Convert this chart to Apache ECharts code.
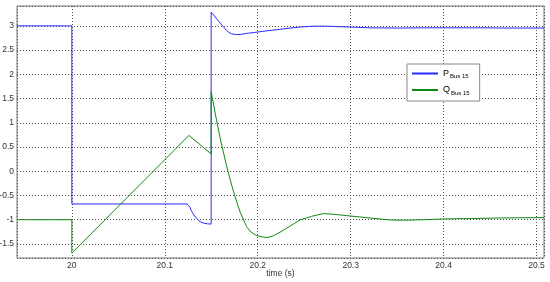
<!DOCTYPE html>
<html>
<head>
<meta charset="utf-8">
<script src="https://cdn.jsdelivr.net/npm/echarts@6/dist/echarts.min.js"></script>
<style>
  html, body { margin: 0; padding: 0; background: #fff; }
  #main { width: 550px; height: 282px; }
</style>
</head>
<body>
<div id="main"></div>
<script>
// P Bus 15 (blue) - time / value
var pTime = [19.941, 20.0, 20.0, 20.124, 20.127, 20.129, 20.132, 20.1344, 20.138, 20.1415, 20.146, 20.1499,
             20.1499, 20.156, 20.163, 20.1684, 20.172, 20.177, 20.182, 20.188, 20.195, 20.2025, 20.213, 20.224,
             20.235, 20.2455, 20.256, 20.267, 20.28, 20.30, 20.32, 20.35, 20.38, 20.41, 20.44, 20.47, 20.508];
var pValue = [3.0, 3.0, -0.675, -0.675, -0.74, -0.83, -0.92, -0.98, -1.04, -1.07, -1.085, -1.09,
              3.285, 3.14, 2.98, 2.87, 2.835, 2.82, 2.825, 2.845, 2.86, 2.88, 2.905, 2.93,
              2.955, 2.975, 2.99, 2.995, 2.99, 2.975, 2.96, 2.955, 2.96, 2.96, 2.96, 2.955, 2.955];

// Q Bus 15 (green)
var qTime = [19.941, 20.0, 20.0, 20.126, 20.1499, 20.1499, 20.155, 20.160, 20.1667, 20.171, 20.1756, 20.181,
             20.188, 20.193, 20.199, 20.205, 20.210, 20.217, 20.224, 20.235, 20.2455, 20.258, 20.2705,
             20.283, 20.2957, 20.3315, 20.342, 20.3566, 20.38, 20.40, 20.43, 20.464, 20.508];
var qValue = [-1.0, -1.0, -1.69, 0.74, 0.357, 1.64, 1.12, 0.645, 0.095, -0.22, -0.524, -0.84,
              -1.142, -1.26, -1.328, -1.355, -1.369, -1.33, -1.258, -1.13, -1.004, -0.93, -0.874,
              -0.89, -0.916, -0.984, -1.004, -1.01, -1.0, -0.984, -0.975, -0.963, -0.956];

var legendNames = ['P', 'Q'];
var legendSub = 'Bus 15';
var colorP = '#2a2aff';
var colorQ = '#108a10';

function pairs(t, v) {
    var out = [];
    for (var i = 0; i < t.length; i++) {
        out.push([t[i], v[i]]);
    }
    return out;
}

var myChart = echarts.init(document.getElementById('main'));

var gridLine = { show: true, lineStyle: { color: '#555', type: [1, 2], width: 1 } };
var labelStyle = { color: '#333', fontSize: 8.5, fontFamily: 'Liberation Sans, Arial, sans-serif' };

var option = {
    animation: false,
    backgroundColor: '#fff',
    grid: {
        left: 17, top: 6, right: 6, bottom: 24,
        outerBoundsMode: 'none',
        containLabel: false,
        show: true, borderColor: '#777', borderWidth: 1, backgroundColor: '#fff'
    },
    legend: {
        orient: 'vertical',
        left: 407, top: 64,
        padding: [5, 10, 5, 4],
        itemGap: 6,
        itemWidth: 26,
        itemHeight: 10,
        itemStyle: { opacity: 0 },
        backgroundColor: '#fff',
        borderColor: '#888',
        borderWidth: 1,
        borderRadius: 0,
        data: legendNames,
        formatter: function (name) {
            return '{m|' + name + '}{s|' + legendSub + '}';
        },
        textStyle: {
            rich: {
                m: { fontSize: 9, color: '#000', fontFamily: 'Liberation Sans, Arial, sans-serif' },
                s: { fontSize: 6, color: '#000', padding: [6, 0, 0, 1], fontFamily: 'Liberation Sans, Arial, sans-serif' }
            }
        }
    },
    xAxis: {
        type: 'value',
        min: 19.941,
        max: 20.508,
        minInterval: 0.1,
        maxInterval: 0.1,
        name: 'time (s)',
        nameLocation: 'middle',
        nameGap: 11,
        nameMoveOverlap: false,
        nameTextStyle: labelStyle,
        axisLine: { show: false, onZero: false },
        axisTick: { show: false },
        axisLabel: Object.assign({ margin: 3, showMinLabel: false, showMaxLabel: false }, labelStyle),
        splitLine: gridLine
    },
    yAxis: {
        type: 'value',
        min: -1.79,
        max: 3.41,
        minInterval: 0.5,
        maxInterval: 0.5,
        axisLine: { show: false, onZero: false },
        axisTick: { show: false },
        axisLabel: Object.assign({ margin: 3, showMinLabel: false, showMaxLabel: false }, labelStyle),
        splitLine: gridLine
    },
    series: [
        {
            name: 'P',
            type: 'line',
            symbol: 'none',
            data: pairs(pTime, pValue),
            lineStyle: { color: colorP, width: 1 },
            itemStyle: { color: colorP }
        },
        {
            name: 'Q',
            type: 'line',
            symbol: 'none',
            data: pairs(qTime, qValue),
            lineStyle: { color: colorQ, width: 1 },
            itemStyle: { color: colorQ }
        }
    ]
};

myChart.setOption(option);
</script>
</body>
</html>
